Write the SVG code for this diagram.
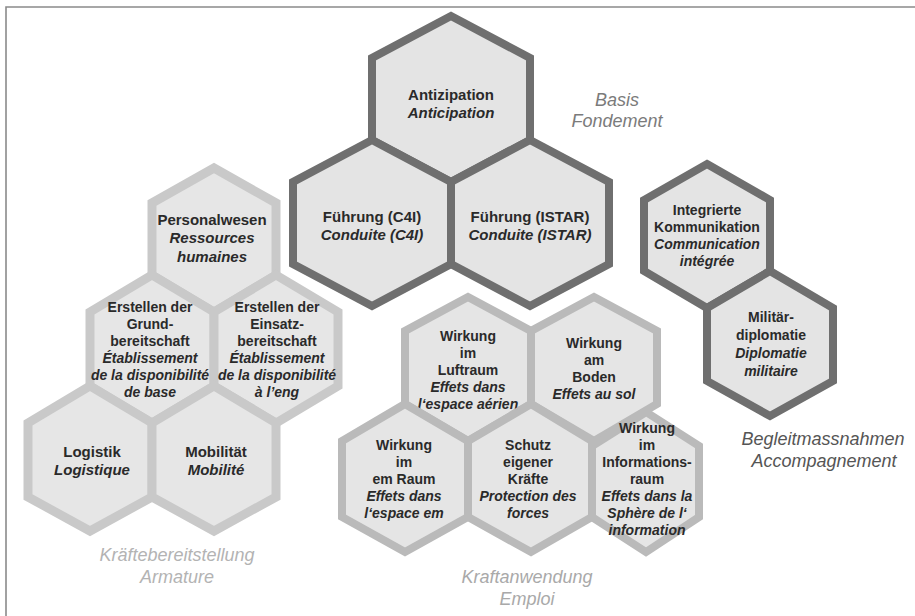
<svg xmlns="http://www.w3.org/2000/svg" width="915" height="616" viewBox="0 0 915 616">
<style>
.bg{fill:#ffffff}
.frame{stroke:#8a8a8a;stroke-width:1.6;fill:none}
.hd{fill:#e4e4e4;stroke:#6f6f6f;stroke-width:8;stroke-linejoin:miter}
.hl{fill:#e6e6e6;stroke:#c9c9c9;stroke-width:9;stroke-linejoin:miter}
.hm{fill:#e5e5e5;stroke:#bababa;stroke-width:8;stroke-linejoin:miter}
text{font-family:"Liberation Sans",Arial,sans-serif;fill:#2a2a2a;text-anchor:middle}
.b{font-weight:bold}
.i{font-style:italic;font-weight:bold}
.s15{font-size:15px}
.s14{font-size:14px}
.lab{font-size:18px;font-style:italic}
</style>
<rect class="bg" width="915" height="616"/>
<path class="frame" d="M6,616 L6,7 L915,7"/>

<g id="connectors"></g>

<g id="antizipation">
<polygon class="hd" points="451,16 530,58 530,140 451,182 372,140 372,58"/>
<text class="b s15" x="451" y="100">Antizipation</text>
<text class="i s15" x="451" y="118">Anticipation</text>
</g>
<g id="fuehrung-c4i">
<polygon class="hd" points="372,140 451,182 451,264 372,306 293,264 293,182"/>
<text class="b s15" x="372" y="222">Führung (C4I)</text>
<text class="i s15" x="372" y="240">Conduite (C4I)</text>
</g>
<g id="fuehrung-istar">
<polygon class="hd" points="530,140 609,182 609,264 530,306 451,264 451,182"/>
<text class="b s15" x="530" y="222">Führung (ISTAR)</text>
<text class="i s15" x="530" y="240">Conduite (ISTAR)</text>
</g>

<g id="personalwesen">
<polygon class="hl" points="214,168 276,203 276,275 214,312 152,275 152,203"/>
<text class="b s15" x="212" y="225">Personalwesen</text>
<text class="i s15" x="212" y="243">Ressources</text>
<text class="i s15" x="212" y="262">humaines</text>
</g>
<g id="grundbereitschaft">
<polygon class="hl" points="152,275 214,312 214,386 152,423 90,386 90,312"/>
<text class="b s14" x="150" y="312">Erstellen der</text>
<text class="b s14" x="150" y="329">Grund-</text>
<text class="b s14" x="150" y="346">bereitschaft</text>
<text class="i s14" x="150" y="363">Établissement</text>
<text class="i s14" x="150" y="380">de la disponibilité</text>
<text class="i s14" x="150" y="397">de base</text>
</g>
<g id="einsatzbereitschaft">
<polygon class="hl" points="276,275 338,312 338,386 276,423 214,386 214,312"/>
<text class="b s14" x="277" y="312">Erstellen der</text>
<text class="b s14" x="277" y="329">Einsatz-</text>
<text class="b s14" x="277" y="346">bereitschaft</text>
<text class="i s14" x="277" y="363">Établissement</text>
<text class="i s14" x="277" y="380">de la disponibilité</text>
<text class="i s14" x="277" y="397">à l’eng</text>
</g>
<g id="logistik">
<polygon class="hl" points="90,386 152,423 152,497 90,531 28,497 28,423"/>
<text class="b s15" x="92" y="457">Logistik</text>
<text class="i s15" x="92" y="475">Logistique</text>
</g>
<g id="mobilitaet">
<polygon class="hl" points="214,386 276,423 276,497 214,531 152,497 152,423"/>
<text class="b s15" x="216" y="457">Mobilität</text>
<text class="i s15" x="216" y="475">Mobilité</text>
</g>

<g id="luftraum">
<polygon class="hm" points="468,297 531,331 531,404 468,441 405,404 405,331"/>
<text class="b s14" x="468" y="341">Wirkung</text>
<text class="b s14" x="468" y="358">im</text>
<text class="b s14" x="468" y="375">Luftraum</text>
<text class="i s14" x="468" y="392">Effets dans</text>
<text class="i s14" x="468" y="409">l‘espace aérien</text>
</g>
<g id="boden">
<polygon class="hm" points="594,297 657,331 657,404 594,441 531,404 531,331"/>
<text class="b s14" x="594" y="348">Wirkung</text>
<text class="b s14" x="594" y="365">am</text>
<text class="b s14" x="594" y="382">Boden</text>
<text class="i s14" x="594" y="399">Effets au sol</text>
</g>
<g id="informationsraum">
<polygon class="hm" points="646,412 699,446 699,517 646,552 592,517 592,446"/>
<text class="b s14" x="647" y="433">Wirkung</text>
<text class="b s14" x="647" y="450">im</text>
<text class="b s14" x="647" y="467">Informations-</text>
<text class="b s14" x="647" y="484">raum</text>
<text class="i s14" x="647" y="501">Effets dans la</text>
<text class="i s14" x="647" y="518">Sphère de l‘</text>
<text class="i s14" x="647" y="535">information</text>
</g>
<g id="em-raum">
<polygon class="hm" points="405,404 468,441 468,517 405,552 342,517 342,441"/>
<text class="b s14" x="404" y="450">Wirkung</text>
<text class="b s14" x="404" y="467">im</text>
<text class="b s14" x="404" y="484">em Raum</text>
<text class="i s14" x="404" y="501">Effets dans</text>
<text class="i s14" x="404" y="518">l‘espace em</text>
</g>
<g id="schutz">
<polygon class="hm" points="531,404 592,441 592,517 531,552 468,517 468,441"/>
<text class="b s14" x="528" y="450">Schutz</text>
<text class="b s14" x="528" y="467">eigener</text>
<text class="b s14" x="528" y="484">Kräfte</text>
<text class="i s14" x="528" y="501">Protection des</text>
<text class="i s14" x="528" y="518">forces</text>
</g>

<g id="kommunikation">
<polygon class="hd" points="707,164 770,200 770,271 707,308 644,271 644,200"/>
<text class="b s14" x="707" y="215">Integrierte</text>
<text class="b s14" x="707" y="232">Kommunikation</text>
<text class="i s14" x="707" y="249">Communication</text>
<text class="i s14" x="707" y="266">intégrée</text>
</g>
<g id="militaerdiplomatie">
<polygon class="hd" points="770,271 833,308 833,381 770,416 707,381 707,308"/>
<text class="b s14" x="771" y="322">Militär-</text>
<text class="b s14" x="771" y="340">diplomatie</text>
<text class="i s14" x="771" y="358">Diplomatie</text>
<text class="i s14" x="771" y="376">militaire</text>
</g>

<g id="labels">
<text class="lab" x="617" y="106" style="fill:#7b7b7b">Basis</text>
<text class="lab" x="617" y="127" style="fill:#7b7b7b">Fondement</text>
<text class="lab" x="177" y="561" style="fill:#b3b3b3">Kräftebereitstellung</text>
<text class="lab" x="177" y="583" style="fill:#b3b3b3">Armature</text>
<text class="lab" x="527" y="583" style="fill:#a9a9a9">Kraftanwendung</text>
<text class="lab" x="527" y="605" style="fill:#a9a9a9">Emploi</text>
<text class="lab" x="823" y="445" style="fill:#555555">Begleitmassnahmen</text>
<text class="lab" x="824" y="467" style="fill:#555555">Accompagnement</text>
</g>
</svg>
